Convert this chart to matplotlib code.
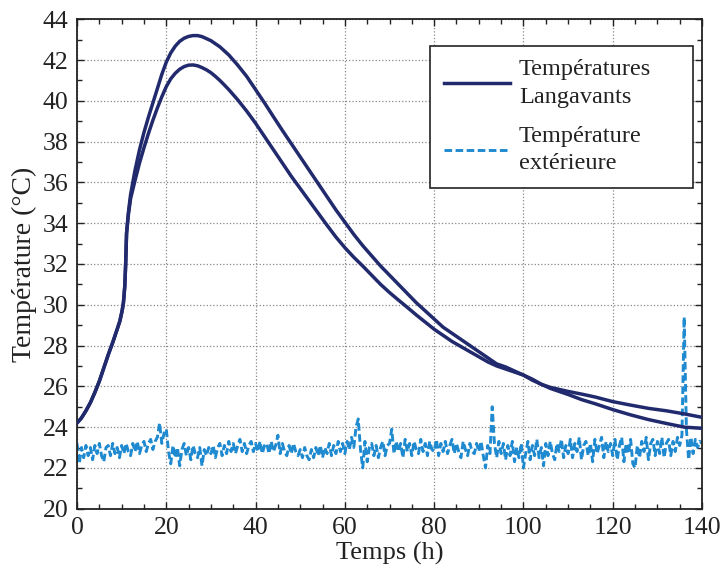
import matplotlib.pyplot as plt
from matplotlib.ticker import MultipleLocator

plt.rcParams['font.family'] = ['Liberation Serif', 'DejaVu Serif']

# Temperatures Langavants, curve with the higher peak
t_high = [0, 1, 2, 3, 4, 5, 6, 7, 8, 9, 9.6, 10.1, 10.4, 10.7, 10.9, 11.1, 11.5,
          12, 13, 14, 15, 16, 17, 18, 19, 20, 21, 22, 23, 24, 25, 26, 27, 28, 29, 30,
          32, 34, 36, 38, 40, 42, 44, 46, 48, 50, 52, 54, 56, 58, 60, 62, 64, 66, 68,
          70, 72, 74, 76, 78, 80, 82, 84, 86, 88, 90, 92, 94, 96, 98, 100, 102, 104,
          106, 108, 110, 113, 116, 120, 124, 128, 132, 136, 140]
v_high = [24.2, 24.45, 24.8, 25.2, 25.7, 26.25, 26.9, 27.55, 28.15, 28.8, 29.2, 29.7, 30.1,
          30.9, 32.0, 33.5, 34.5,
          35.4, 36.6, 37.6, 38.45, 39.2, 39.9, 40.6, 41.3, 41.9, 42.35, 42.68, 42.92, 43.07,
          43.16, 43.2, 43.2, 43.15, 43.05, 42.95,
          42.65, 42.25, 41.75, 41.2, 40.55, 39.9, 39.22, 38.55, 37.9, 37.25, 36.6, 35.95, 35.3,
          34.65, 34.05, 33.45, 32.9, 32.4, 31.9,
          31.45, 31.0, 30.55, 30.1, 29.7, 29.3, 28.9, 28.6, 28.3, 28.0, 27.7, 27.4, 27.1,
          26.95, 26.75, 26.55, 26.3, 26.1,
          25.9, 25.75, 25.6, 25.35, 25.15, 24.86, 24.6, 24.37, 24.18, 24.0, 23.94]

# Temperatures Langavants, curve with the lower peak
t_low = [0, 1, 2, 3, 4, 5, 6, 7, 8, 9, 9.6, 10.1, 10.4, 10.7, 10.9, 11.1, 11.5,
         12, 13, 14, 15, 16, 17, 18, 19, 20, 21, 22, 23, 24, 25, 26, 27, 28, 29, 30,
         31, 32, 33, 34, 36, 38, 40, 42, 44, 46, 48, 50, 52, 54, 56, 58, 60, 62, 64, 66,
         68, 70, 72, 74, 76, 78, 80, 82, 84, 86, 88, 90, 92, 94, 96, 98, 100, 102, 104,
         106, 108, 110, 113, 116, 120, 124, 128, 132, 136, 140]
v_low = [24.2, 24.45, 24.8, 25.2, 25.7, 26.25, 26.9, 27.55, 28.15, 28.8, 29.2, 29.7, 30.1,
         30.9, 32.0, 33.5, 34.4,
         35.2, 36.1, 36.95, 37.7, 38.4, 39.05, 39.65, 40.2, 40.7, 41.08, 41.35, 41.55, 41.68,
         41.75, 41.76, 41.72, 41.63, 41.52, 41.38,
         41.2, 41.0, 40.78, 40.55, 40.05, 39.5, 38.9, 38.25, 37.6, 36.95, 36.3, 35.7, 35.1,
         34.5, 33.9, 33.32, 32.8, 32.33, 31.9, 31.45,
         31.0, 30.6, 30.23, 29.87, 29.5, 29.15, 28.8, 28.5, 28.2, 27.95, 27.7, 27.45, 27.2,
         27.0, 26.85, 26.7, 26.55, 26.35, 26.1,
         25.95, 25.85, 25.75, 25.62, 25.48, 25.25, 25.08, 24.92, 24.8, 24.65, 24.48]

# Temperature exterieure, one reading every half hour from 0 h to 140 h
t_ext = [i * 0.5 for i in range(281)]
v_ext = [
    23.2, 22.2, 23.0, 22.5, 23.1, 22.6, 23.0, 22.4, 23.1, 22.7, 23.2, 22.6, 22.3, 23.0, 23.1, 22.6, 23.2, 22.7, 23.0, 22.5,
    23.1, 22.7, 23.2, 22.8, 22.6, 23.2, 22.8, 23.3, 22.7, 23.1, 23.3, 22.8, 23.2, 23.4, 22.9, 23.3, 23.5, 24.2, 23.2, 23.7,
    23.9, 22.8, 22.2, 23.1, 22.5, 23.0, 22.1, 22.9, 23.2, 22.6, 23.0, 22.4, 23.1, 22.7, 22.5, 23.0, 22.1, 22.9, 22.6, 23.0,
    22.7, 23.1, 22.5, 23.0, 23.2, 22.6, 23.1, 22.7, 23.3, 22.8, 23.2, 22.7, 23.1, 23.4, 22.8, 23.2, 22.7, 23.1, 23.3, 22.8,
    23.2, 22.8, 23.3, 22.7, 23.1, 23.2, 22.7, 23.3, 22.8, 23.1, 23.6, 22.7, 23.2, 22.8, 22.6, 23.1, 22.7, 23.2, 22.8, 22.6,
    22.9, 22.5, 23.0, 22.6, 22.4, 22.9, 22.5, 23.0, 22.6, 23.1, 22.5, 23.0, 22.7, 23.2, 22.6, 23.1, 22.7, 23.3, 22.8, 23.2,
    22.7, 23.3, 22.9, 23.5, 23.0, 24.0, 24.4, 22.9, 22.0, 23.3, 22.3, 23.0, 23.2, 22.6, 23.1, 22.5, 23.0, 23.3, 22.6, 23.1,
    23.2, 23.9, 22.7, 23.3, 22.8, 23.2, 22.5, 23.4, 22.8, 23.2, 22.6, 23.3, 22.9, 22.7, 23.4, 22.8, 23.2, 22.6, 23.3, 22.9,
    22.8, 23.4, 22.6, 23.2, 22.8, 23.3, 22.7, 23.1, 23.4, 22.7, 23.2, 22.8, 22.5, 23.3, 22.9, 22.6, 23.2, 22.8, 22.7, 23.2,
    22.8, 23.3, 22.6, 22.0, 23.1, 22.7, 25.0, 23.2, 22.5, 23.3, 22.7, 23.2, 22.4, 23.1, 22.6, 23.3, 22.3, 23.0, 22.5, 23.2,
    22.0, 22.7, 23.3, 22.4, 23.1, 22.6, 23.4, 22.5, 23.0, 22.1, 23.2, 22.6, 23.3, 22.7, 22.4, 23.2, 22.8, 23.4, 22.5, 23.1,
    22.7, 23.4, 22.5, 23.2, 22.8, 23.5, 22.4, 23.1, 23.3, 22.6, 23.2, 22.3, 23.4, 22.7, 23.1, 23.5, 22.5, 23.3, 22.8, 23.2,
    22.6, 23.4, 22.4, 23.1, 23.5, 22.3, 23.2, 22.7, 23.4, 22.2, 22.0, 23.1, 22.5, 23.3, 22.8, 23.5, 22.4, 23.2, 23.4, 22.6,
    23.3, 22.7, 23.5, 22.5, 23.2, 23.4, 22.6, 23.3, 22.8, 23.5, 23.1, 23.6, 29.4, 23.9, 22.4, 23.5, 22.7, 23.4, 23.0, 23.3,
    23.2,
]

navy = "#222a6e"
light_blue = "#1f8ad0"

fig = plt.figure(figsize=(7.23, 5.77), dpi=100)
ax = fig.add_axes([0.1065, 0.1184, 0.8645, 0.8482])

ext_style = (0, (2.6, 1.2))
ax.plot(t_ext, v_ext, color=light_blue, lw=2.1, linestyle=ext_style, zorder=2)
ax.plot(t_high, v_high, color=navy, lw=2.5, zorder=3, label="Températures\nLangavants")
ax.plot(t_low, v_low, color=navy, lw=2.5, zorder=3)
# empty line only for the legend entry
ax.plot([], [], color=light_blue, lw=2.1, linestyle=ext_style, label="Température\nextérieure")

ax.set_xlim(0, 140)
ax.set_ylim(20, 44)
ax.xaxis.set_major_locator(MultipleLocator(20))
ax.xaxis.set_minor_locator(MultipleLocator(5))
ax.yaxis.set_major_locator(MultipleLocator(2))
ax.yaxis.set_minor_locator(MultipleLocator(1))
ax.tick_params(which="both", direction="in", top=True, right=True, labelsize=18.5,
               color="#222222", labelcolor="#222222")
ax.tick_params(which="major", length=5, width=1.0, pad=6)
ax.tick_params(which="minor", length=3.5, width=1.0)
ax.grid(True, which="major", color="#888888", linestyle=":", linewidth=0.9)
for s in ax.spines.values():
    s.set_linewidth(1.3)
    s.set_color("#222222")

ax.set_xlabel("Temps (h)", fontsize=19, labelpad=2, color="#222222")
ax.set_ylabel("Température (°C)", fontsize=20, labelpad=4, color="#222222")

leg = ax.legend(loc="upper left", bbox_to_anchor=(0.565, 0.658, 0.42, 0.2875), mode="expand",
                fontsize=17.5, frameon=True, fancybox=False, handlelength=2.75,
                handletextpad=0.35, borderpad=0.55, labelspacing=0.75, borderaxespad=0)
leg.get_frame().set_edgecolor("#222222")
leg.get_frame().set_linewidth(1.2)
leg.get_frame().set_alpha(1)
for txt in leg.get_texts():
    txt.set_color("#222222")
    txt.set_linespacing(1.4)

fig.savefig("out.png", dpi=100)
